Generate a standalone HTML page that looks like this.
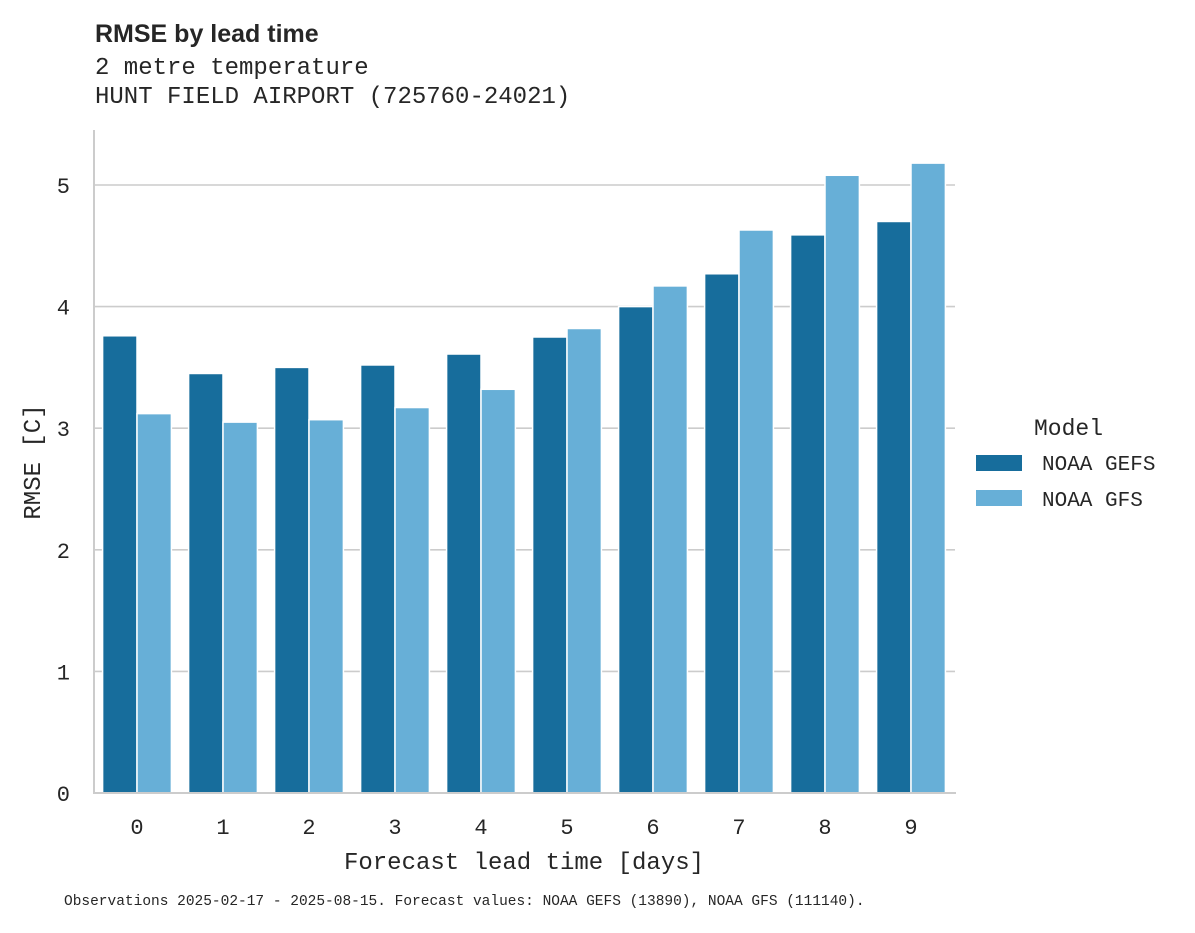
<!DOCTYPE html>
<html><head><meta charset="utf-8"><style>
body{margin:0;background:#fff}
text{font-family:"Liberation Mono","DejaVu Sans Mono",monospace;fill:#262626}
</style></head><body>
<svg id="chart" width="1195" height="928" xmlns="http://www.w3.org/2000/svg">
<text x="95" y="42" font-size="25" font-weight="bold" style="font-family:'Liberation Sans','DejaVu Sans',sans-serif">RMSE by lead time</text>
<text x="95" y="74" font-size="24">2 metre temperature</text>
<text x="95" y="103" font-size="24">HUNT FIELD AIRPORT (725760-24021)</text>
<g id="grid"></g>
<g id="bars"></g>
<line x1="94" y1="130" x2="94" y2="794" stroke="#cccccc" stroke-width="2"/>
<line x1="93" y1="793" x2="956" y2="793" stroke="#cccccc" stroke-width="2"/>
<g id="ticks"></g>
<text x="524" y="869" font-size="24" text-anchor="middle">Forecast lead time [days]</text>
<text transform="translate(40,462) rotate(-90)" font-size="24" text-anchor="middle">RMSE [C]</text>
<g>
<text x="1034" y="435" font-size="23">Model</text>
<rect x="976" y="455" width="46" height="16" fill="#176d9c"/>
<text x="1042" y="470" font-size="21">NOAA GEFS</text>
<rect x="976" y="490" width="46" height="16" fill="#67afd7"/>
<text x="1042" y="506" font-size="21">NOAA GFS</text>
</g>
<text x="64" y="905" font-size="14.5">Observations 2025-02-17 - 2025-08-15. Forecast values: NOAA GEFS (13890), NOAA GFS (111140).</text>
</svg>
<script>
const categories=["0","1","2","3","4","5","6","7","8","9"];
const gefs=[3.76,3.45,3.50,3.52,3.61,3.75,4.00,4.27,4.59,4.70];
const gfs=[3.12,3.05,3.07,3.17,3.32,3.82,4.17,4.63,5.08,5.18];
const yTicks=[0,1,2,3,4,5];
const NS="http://www.w3.org/2000/svg";
const y=v=>793-v*121.6;
const x=i=>137+i*86;
const g=document.getElementById('grid'),b=document.getElementById('bars'),t=document.getElementById('ticks');
function mk(tag,attrs,parent){const e=document.createElementNS(NS,tag);for(const k in attrs)e.setAttribute(k,attrs[k]);parent.appendChild(e);return e;}
yTicks.forEach(v=>{
 const l=mk('line',{x1:94,x2:955,y1:y(v),y2:y(v),stroke:'#cccccc','stroke-width':1.6},g);
 
 
 const tx=mk('text',{x:70,y:y(v)+8,'font-size':22,'text-anchor':'end'},t);tx.textContent=v;
 
 
});
const bw=34.4;
categories.forEach((c,i)=>{
 const r1=mk('rect',{x:x(i)-bw,y:y(gefs[i]),width:bw,height:y(0)-y(gefs[i]),fill:'#176d9c',stroke:'#fff','stroke-width':1.5},b);
 
 
 const r2=mk('rect',{x:x(i),y:y(gfs[i]),width:bw,height:y(0)-y(gfs[i]),fill:'#67afd7',stroke:'#fff','stroke-width':1.5},b);
 
 
 const tx=mk('text',{x:x(i),y:834,'font-size':22,'text-anchor':'middle'},t);tx.textContent=c;
 
 
});
</script>
</body></html>
